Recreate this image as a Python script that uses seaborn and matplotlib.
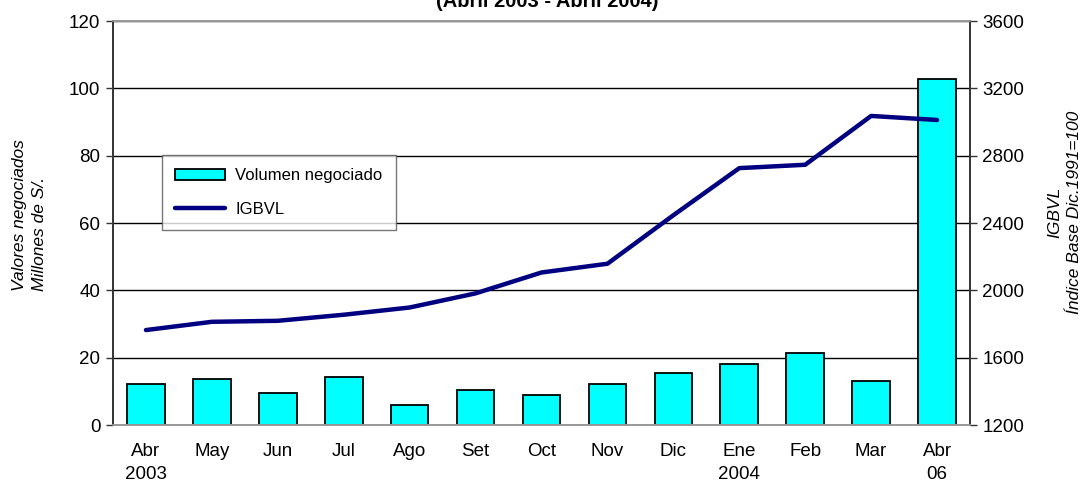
import numpy as np
import pandas as pd
import matplotlib
matplotlib.use('Agg')
import matplotlib.pyplot as plt
import seaborn as sns

# Datos
meses = ['Abr\n2003', 'May', 'Jun', 'Jul', 'Ago', 'Set', 'Oct', 'Nov',
         'Dic', 'Ene\n2004', 'Feb', 'Mar', 'Abr\n06']
volumen = [12.1, 13.8, 9.4, 14.3, 6.0, 10.4, 8.8, 12.1, 15.4, 18.1, 21.4, 13.2, 102.8]
igbvl = [1764, 1813, 1819, 1855, 1898, 1982, 2106, 2158, 2446, 2726, 2746, 3036, 3012]

df = pd.DataFrame({'mes': meses, 'pos': np.arange(len(meses)),
                   'volumen': volumen, 'igbvl': igbvl})

sns.set_theme(style="white")
plt.rcParams['font.family'] = ['Liberation Sans', 'DejaVu Sans']
plt.rcParams.update({'text.color': 'black', 'axes.labelcolor': 'black',
                     'xtick.color': 'black', 'ytick.color': 'black'})

fig = plt.figure(figsize=(10.85, 4.9), dpi=100)
ax = fig.add_axes([113 / 1085, 1 - 425 / 490, 857 / 1085, 404 / 490])

# Barras: volumen negociado
sns.barplot(data=df, x='mes', y='volumen', ax=ax, color='#00FFFF', saturation=1,
            edgecolor='black', linewidth=1.3, width=0.57, label='Volumen negociado')
if ax.get_legend() is not None:
    ax.get_legend().remove()
ax.set_ylim(0, 120)
ax.set_yticks(range(0, 121, 20))
ax.set_xlim(-0.5, len(meses) - 0.5)
ax.yaxis.grid(True, color='black', linewidth=1)
ax.set_axisbelow(True)
ax.set_xlabel('')
ax.set_ylabel('Valores negociados\nMillones de S/.', fontsize=12.5, style='italic',
              linespacing=1.4, multialignment='left')
ax.yaxis.label.set_verticalalignment('center')
ax.yaxis.set_label_coords(-0.097, 0.52)
ax.tick_params(axis='y', left=True, length=5, width=1, color='#333333', labelsize=13.5, pad=4)
ax.tick_params(axis='x', bottom=False, length=0, labelsize=13.5, pad=13)
for t in ax.get_xticklabels():
    t.set_linespacing(1.45)

# Linea: IGBVL
ax2 = ax.twinx()
sns.lineplot(data=df, x='pos', y='igbvl', ax=ax2, color='#000080', linewidth=3.2,
             label='IGBVL', solid_capstyle='round', legend=False)
ax2.set_ylim(1200, 3600)
ax2.set_yticks(range(1200, 3601, 400))
ax2.set_xlim(-0.5, len(meses) - 0.5)
ax2.set_ylabel('IGBVL\nÍndice Base Dic.1991=100', fontsize=12.5, style='italic',
               linespacing=1.4)
ax2.yaxis.label.set_verticalalignment('center')
ax2.yaxis.set_label_coords(1.11, 0.527)
ax2.tick_params(axis='y', right=True, length=5, width=1, color='#333333', labelsize=13.5, pad=4)

for a in (ax, ax2):
    a.spines['top'].set_color('#999999')
    a.spines['bottom'].set_color('#999999')
    a.spines['left'].set_color('#333333')
    a.spines['right'].set_color('#333333')
    for s in a.spines.values():
        s.set_linewidth(1.2)

# Leyenda
h1, l1 = ax.get_legend_handles_labels()
h2, l2 = ax2.get_legend_handles_labels()
leg = ax2.legend(h1 + h2, l1 + l2, loc='upper left', bbox_to_anchor=(0.057, 0.668),
                 borderaxespad=0, fontsize=12, frameon=True, fancybox=False,
                 edgecolor='#555555', borderpad=0.8, labelspacing=1.1,
                 handlelength=3.0, handletextpad=0.6, shadow=False)
leg.get_frame().set_linewidth(1)

# Titulo (parcialmente cortado)
fig.text(547 / 1085, 1 - 7 / 490, '(Abril 2003 - Abril 2004)', ha='center', va='baseline',
         fontsize=14.5, fontweight='bold')

fig.savefig('out.png', dpi=100)
